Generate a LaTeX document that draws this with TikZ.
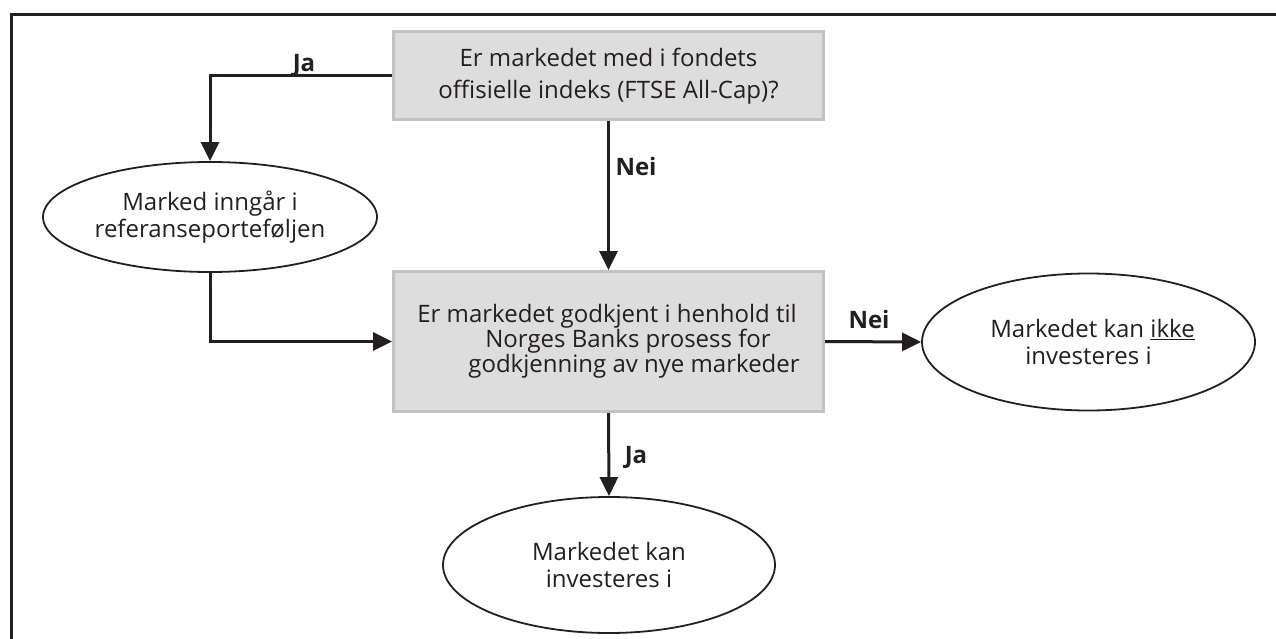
\documentclass[tikz,border=0pt]{standalone}
\usepackage{fontspec}
\setmainfont{Open Sans}
\usetikzlibrary{arrows.meta,shapes.geometric}
\definecolor{ink}{HTML}{231F20}
\definecolor{boxfill}{HTML}{DDDDDD}
\definecolor{boxline}{HTML}{C2C2C2}
\tikzset{
  question/.style={draw=boxline, fill=boxfill, line width=3pt, rectangle,
    inner sep=0pt, text=ink},
  outcome/.style={draw=ink, line width=1.8pt, ellipse, inner sep=0pt, text=ink,
    align=center, font=\fontsize{24}{26.5}\selectfont},
  conn/.style={draw=ink, line width=3pt,
    -{Triangle[length=19pt,width=18pt]}},
  answer/.style={text=ink, font=\fontsize{24}{26}\selectfont\bfseries,
    inner sep=0pt, anchor=base}
}
\begin{document}
\begin{tikzpicture}[x=1pt,y=-1pt]
\useasboundingbox (0,0) rectangle (1276,639);
% outer frame (top and left edges)
\draw[ink, line width=3pt] (1276,15) -- (11,15) -- (11,639);

% questions
\node[question, minimum width=430pt, minimum height=88pt, align=center,
  font=\fontsize{24}{32}\selectfont] (q1) at (608.5,76)
  {Er markedet med i fondets\\offisielle indeks (FTSE All-Cap)?};
\node[question, minimum width=430pt, minimum height=140pt, align=left,
  font=\fontsize{24}{25}\selectfont] (q2) at (608.5,341.5)
  {Er markedet godkjent i henhold til\\
   \hspace*{68pt}Norges Banks prosess for\\
   \hspace*{51pt}godkjenning av nye markeder};

% outcomes
\node[outcome, minimum width=334pt, minimum height=110pt] (e1) at (210,217)
  {Marked inngår i\\referanseporteføljen};
\node[outcome, minimum width=333pt, minimum height=137pt] (e2) at (1088.5,342)
  {\hspace*{8pt}Markedet kan \underline{ikke}\\investeres i};
\node[outcome, minimum width=332pt, minimum height=136pt] (e3) at (609,565)
  {Markedet kan\\investeres i};

% connectors
\draw[conn] (q1.west) -| (e1.north);
\draw[conn] (e1.south) |- (q2.west);
\draw[conn] (q1.south) -- (q2.north);
\draw[conn] (q2.east) -- (e2.west);
\draw[conn] (q2.south) -- (e3.north);

% answer labels
\node[answer] (ja1) at (304,72) {Ja};
\node[answer] (nei1) at (636,176) {Nei};
\node[answer] (nei2) at (869,328) {Nei};
\node[answer] (ja2) at (636,463) {Ja};
\end{tikzpicture}
\end{document}
